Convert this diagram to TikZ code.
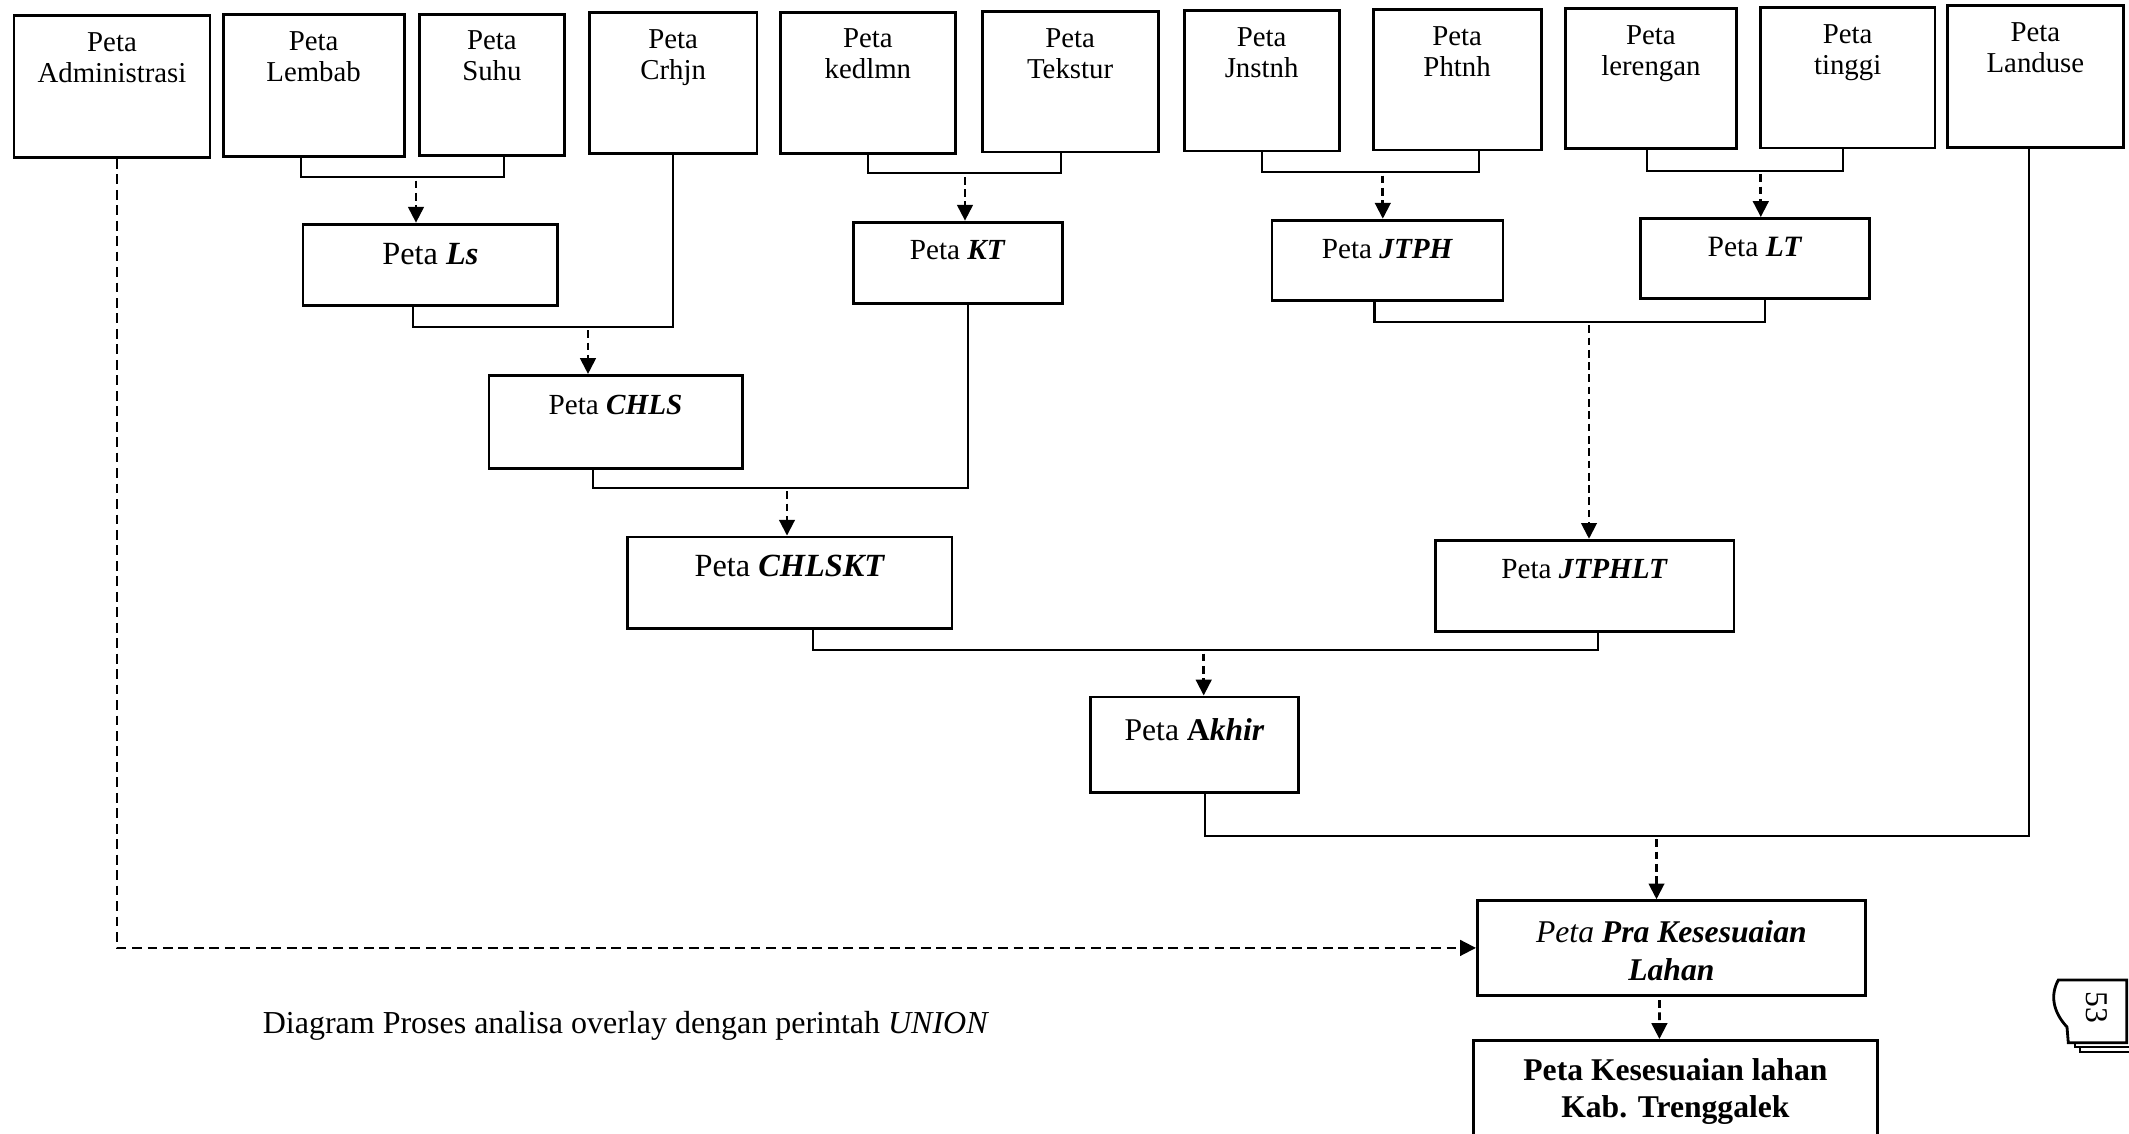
\documentclass[tikz,border=0pt]{standalone}
\usepackage{fontspec}
\setmainfont{Liberation Serif}
\usetikzlibrary{arrows.meta}

\newcommand\ukuran[2]{\fontsize{#1pt}{#2pt}\selectfont}

\tikzset{
  kotak/.style={draw, thick, inner sep=0pt, anchor=north west},
  judul/.style={anchor=north, align=center, inner sep=0pt},
  atas/.style={kotak, label={[judul, yshift=-1.75mm, font=\ukuran{8.2}{8.8}]north:#1}},
  garis/.style={semithick},
  panah/.style={thick, dash pattern=on 2.2pt off 1.3pt, shorten <=1pt,
    -{Triangle[length=4.5pt,width=4.4pt]}},
}

\begin{document}
\begin{tikzpicture}
  \useasboundingbox (0,0) rectangle (21.29,-11.33);

  % peta masukan
  \node[atas={Peta\\Administrasi}, minimum width=1.96cm, minimum height=1.42cm] (adm) at (0.126,-0.14) {};
  \node[atas={Peta\\Lembab}, minimum width=1.81cm, minimum height=1.42cm] (lembab) at (2.217,-0.133) {};
  \node[atas={Peta\\Suhu}, minimum width=1.45cm, minimum height=1.41cm] (suhu) at (4.18,-0.127) {};
  \node[atas={Peta\\Crhjn}, minimum width=1.675cm, minimum height=1.41cm] (crhjn) at (5.88,-0.113) {};
  \node[atas={Peta\\kedlmn}, minimum width=1.75cm, minimum height=1.41cm] (kedlmn) at (7.79,-0.107) {};
  \node[atas={Peta\\Tekstur}, minimum width=1.76cm, minimum height=1.405cm] (tekstur) at (9.807,-0.10) {};
  \node[atas={Peta\\Jnstnh}, minimum width=1.55cm, minimum height=1.405cm] (jnstnh) at (11.827,-0.09) {};
  \node[atas={Peta\\Phtnh}, minimum width=1.68cm, minimum height=1.405cm] (phtnh) at (13.717,-0.08) {};
  \node[atas={Peta\\lerengan}, minimum width=1.71cm, minimum height=1.40cm] (lerengan) at (15.64,-0.073) {};
  \node[atas={Peta\\tinggi}, minimum width=1.745cm, minimum height=1.405cm] (tinggi) at (17.59,-0.06) {};
  \node[atas={Peta\\Landuse}, minimum width=1.76cm, minimum height=1.42cm] (landuse) at (19.46,-0.04) {};

  % hasil overlay
  \node[kotak, minimum width=2.547cm, minimum height=0.813cm,
    label={[judul, yshift=-2mm, font=\ukuran{9.2}{11}]north:Peta \textbf{\textit{Ls}}}] (ls) at (3.016,-2.227) {};
  \node[kotak, minimum width=2.087cm, minimum height=0.813cm,
    label={[judul, yshift=-1.85mm, font=\ukuran{8.3}{10}]north:Peta \textbf{\textit{KT}}}] (kt) at (8.52,-2.207) {};
  \node[kotak, minimum width=2.31cm, minimum height=0.803cm,
    label={[judul, yshift=-2mm, font=\ukuran{8.3}{10}]north:Peta \textbf{\textit{JTPH}}}] (jtph) at (12.706,-2.187) {};
  \node[kotak, minimum width=2.284cm, minimum height=0.803cm,
    label={[judul, yshift=-1.95mm, font=\ukuran{8.4}{10}]north:Peta \textbf{\textit{LT}}}] (lt) at (16.394,-2.17) {};
  \node[kotak, minimum width=2.533cm, minimum height=0.929cm,
    label={[judul, yshift=-2mm, font=\ukuran{8.3}{10}]north:Peta \textbf{\textit{CHLS}}}] (chls) at (4.875,-3.74) {};
  \node[kotak, minimum width=3.242cm, minimum height=0.911cm,
    label={[judul, yshift=-1.9mm, font=\ukuran{9.2}{11}]north:Peta \textbf{\textit{CHLSKT}}}] (chlskt) at (6.264,-5.356) {};
  \node[kotak, minimum width=2.986cm, minimum height=0.912cm,
    label={[judul, yshift=-2mm, font=\ukuran{8.3}{10}]north:Peta \textbf{\textit{JTPHLT}}}] (jtphlt) at (14.34,-5.388) {};
  \node[kotak, minimum width=2.075cm, minimum height=0.955cm,
    label={[judul, yshift=-2.2mm, font=\ukuran{9}{11}]north:Peta \textbf{A\textit{khir}}}] (akhir) at (10.894,-6.955) {};
  \node[kotak, minimum width=3.88cm, minimum height=0.944cm,
    label={[judul, yshift=-2.1mm, font=\ukuran{9}{10.7}]north:\textit{Peta \textbf{Pra Kesesuaian}}\\\textbf{\textit{Lahan}}}] (pra) at (14.76,-8.993) {};
  \node[kotak, minimum width=4.04cm, minimum height=1.05cm,
    label={[judul, yshift=-1.9mm, font=\ukuran{9}{10.5}\bfseries]north:Peta Kesesuaian lahan\\Kab. Trenggalek}] (akhirpeta) at (14.72,-10.39) {};

  % titik tengah sambungan
  \coordinate (m1) at (4.16,-1.77);
  \coordinate (m2) at (5.88,-3.267);
  \coordinate (m3) at (9.65,-1.733);
  \coordinate (m4) at (7.87,-4.879);
  \coordinate (m5) at (13.828,-1.72);
  \coordinate (m6) at (17.608,-1.707);
  \coordinate (m7) at (15.89,-3.217);
  \coordinate (m8) at (12.037,-6.50);
  \coordinate (m9) at (16.565,-8.357);

  \draw[garis] ([xshift=-1.27mm]lembab.south) |- (m1) -| ([xshift=1.17mm]suhu.south);
  \draw[panah] (m1) -- (m1 |- ls.north);
  \draw[garis] ([xshift=-1.7mm]ls.south) |- (m2) -| (crhjn.south);
  \draw[panah] (m2) -- (m2 |- chls.north);
  \draw[garis] (kedlmn.south) |- (m3) -| ([xshift=-0.9mm]tekstur.south);
  \draw[panah] (m3) -- (m3 |- kt.north);
  \draw[garis] ([xshift=-2.3mm]chls.south) |- (m4) -| ([xshift=1mm]kt.south);
  \draw[panah] (m4) -- (m4 |- chlskt.north);

  \draw[garis] (jnstnh.south) |- (m5) -| ([xshift=2.2mm]phtnh.south);
  \draw[panah] (m5) -- (m5 |- jtph.north);
  \draw[garis] ([xshift=-0.4mm]lerengan.south) |- (m6) -| ([xshift=-0.5mm]tinggi.south);
  \draw[panah] (m6) -- (m6 |- lt.north);
  \draw[garis] ([xshift=-1.3mm]jtph.south) |- (m7) -| ([xshift=1mm]lt.south);
  \draw[panah] (m7) -- (m7 |- jtphlt.north);

  \draw[garis] ([xshift=2.3mm]chlskt.south) |- (m8) -| ([xshift=1.3mm]jtphlt.south);
  \draw[panah] (m8) -- (m8 |- akhir.north);
  \draw[garis] ([xshift=1.05mm]akhir.south) |- (m9) -| ([xshift=-0.6mm]landuse.south);
  \draw[panah] (m9) -- (m9 |- pra.north);
  \draw[panah] ([xshift=-1.2mm]pra.south) -- ([xshift=-1.6mm]akhirpeta.north);
  \draw[panah, dash pattern=on 2.8pt off 1.6pt, shorten <=0pt] ([xshift=0.5mm]adm.south) |- (pra.west);

  \node[anchor=base, font=\ukuran{9.1}{11}] (ket) at (6.26,-10.335)
    {Diagram Proses analisa overlay dengan perintah \textit{UNION}};

  % nomor halaman
  \draw[thick] (20.683,-10.427) -- (20.67,-10.27) .. controls (20.53,-10.12) and (20.50,-9.95) .. (20.583,-9.80)
    -- (21.267,-9.80) -- (21.267,-10.427) -- cycle;
  \draw[semithick] (20.75,-10.427) -- (20.75,-10.467) -- (21.29,-10.467);
  \draw[semithick] (20.80,-10.467) -- (20.80,-10.517) -- (21.29,-10.517);
  \node[rotate=-90, font=\ukuran{9}{10}] (hal) at (20.97,-10.07) {53};
\end{tikzpicture}
\end{document}
